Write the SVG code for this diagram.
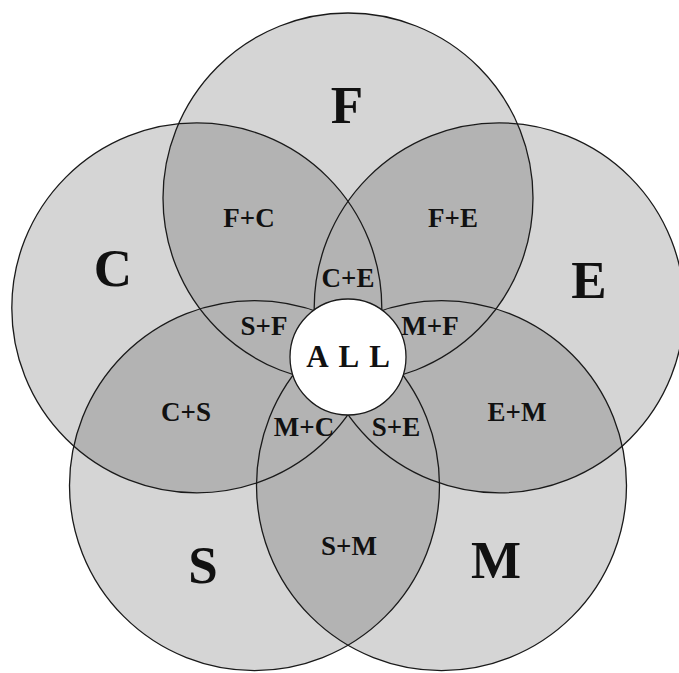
<svg xmlns="http://www.w3.org/2000/svg" xmlns:xlink="http://www.w3.org/1999/xlink" width="679" height="673" viewBox="0 0 679 673">
<style>
.base{fill:#d5d5d5;stroke:none}
.ov{fill:#b3b3b3;stroke:none}
.ring{fill:none;stroke:#1a1a1a;stroke-width:1.3}
.big{font-family:"Liberation Serif","Times New Roman",serif;font-weight:bold;font-size:53px;fill:#111;text-anchor:middle}
.pair{font-family:"Liberation Serif","Times New Roman",serif;font-weight:bold;font-size:27px;fill:#111;text-anchor:middle}
.all{font-family:"Liberation Serif","Times New Roman",serif;font-weight:bold;font-size:31px;fill:#111;text-anchor:middle;letter-spacing:10px}
</style>
<defs>
<circle id="cF" cx="348" cy="198" r="185"/>
<circle id="cC" cx="196.8" cy="307.9" r="185"/>
<circle id="cE" cx="499.2" cy="307.9" r="185"/>
<circle id="cS" cx="254.5" cy="485.6" r="185"/>
<circle id="cM" cx="441.5" cy="485.6" r="185"/>
<clipPath id="kF"><use xlink:href="#cF"/></clipPath>
<clipPath id="kC"><use xlink:href="#cC"/></clipPath>
<clipPath id="kE"><use xlink:href="#cE"/></clipPath>
<clipPath id="kS"><use xlink:href="#cS"/></clipPath>
<clipPath id="kM"><use xlink:href="#cM"/></clipPath>
</defs>
<g id="fills">
<use xlink:href="#cF" class="base"/>
<use xlink:href="#cC" class="base"/>
<use xlink:href="#cE" class="base"/>
<use xlink:href="#cS" class="base"/>
<use xlink:href="#cM" class="base"/>
</g>
<g id="overlaps">
<g clip-path="url(#kF)"><use xlink:href="#cC" class="ov"/><use xlink:href="#cE" class="ov"/><use xlink:href="#cS" class="ov"/><use xlink:href="#cM" class="ov"/></g>
<g clip-path="url(#kC)"><use xlink:href="#cE" class="ov"/><use xlink:href="#cS" class="ov"/><use xlink:href="#cM" class="ov"/></g>
<g clip-path="url(#kE)"><use xlink:href="#cS" class="ov"/><use xlink:href="#cM" class="ov"/></g>
<g clip-path="url(#kS)"><use xlink:href="#cM" class="ov"/></g>
</g>
<g id="node-F"><use xlink:href="#cF" class="ring"/><text class="big" x="347" y="123">F</text></g>
<g id="node-C"><use xlink:href="#cC" class="ring"/><text class="big" x="113" y="286">C</text></g>
<g id="node-E"><use xlink:href="#cE" class="ring"/><text class="big" x="589" y="298">E</text></g>
<g id="node-S"><use xlink:href="#cS" class="ring"/><text class="big" x="203" y="583">S</text></g>
<g id="node-M"><use xlink:href="#cM" class="ring"/><text class="big" x="496" y="578">M</text></g>
<g id="labels">
<text class="pair" x="249" y="227">F+C</text>
<text class="pair" x="453" y="227">F+E</text>
<text class="pair" x="348" y="287">C+E</text>
<text class="pair" x="264" y="335">S+F</text>
<text class="pair" x="430" y="335">M+F</text>
<text class="pair" x="186" y="421">C+S</text>
<text class="pair" x="517" y="421">E+M</text>
<text class="pair" x="304" y="436">M+C</text>
<text class="pair" x="396" y="436">S+E</text>
<text class="pair" x="349" y="555">S+M</text>
</g>
<g id="node-ALL"><circle cx="348" cy="357" r="58" fill="#fff" stroke="#1a1a1a" stroke-width="1.3"/><text class="all" x="353" y="367">ALL</text></g>
</svg>
